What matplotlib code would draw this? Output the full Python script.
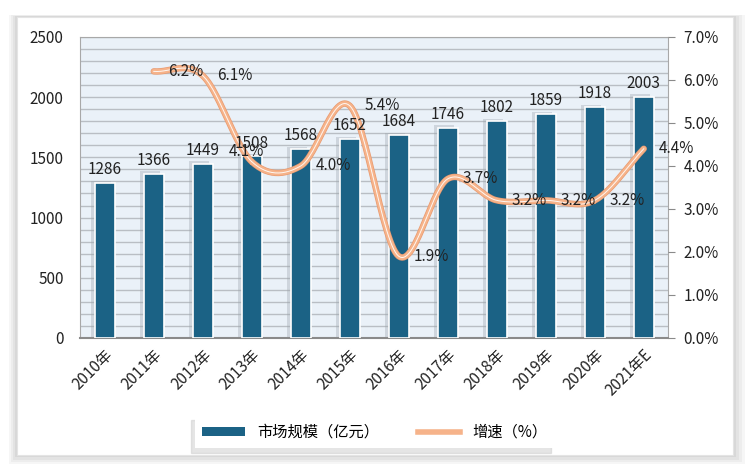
import numpy as np
import matplotlib
matplotlib.use("Agg")
import matplotlib.pyplot as plt
from matplotlib.patches import FancyBboxPatch, Patch
from matplotlib.lines import Line2D

plt.rcParams['font.family'] = ['Noto Sans CJK SC', 'DejaVu Sans']

#%% data
years = ['2010年', '2011年', '2012年', '2013年', '2014年', '2015年',
         '2016年', '2017年', '2018年', '2019年', '2020年', '2021年E']
market = [1286, 1366, 1449, 1508, 1568, 1652, 1684, 1746, 1802, 1859, 1918, 2003]
growth_years = years[1:]
growth = [6.2, 6.1, 4.1, 4.0, 5.4, 1.9, 3.7, 3.2, 3.2, 3.2, 4.4]

bar_color = '#1b6285'
line_color = '#f6b38a'


#%% smoothing like excel's smoothed line
def catmull_rom(x, y, n=30):
    x = np.asarray(x, float)
    y = np.asarray(y, float)
    px = np.concatenate([[2 * x[0] - x[1]], x, [2 * x[-1] - x[-2]]])
    py = np.concatenate([[2 * y[0] - y[1]], y, [2 * y[-1] - y[-2]]])
    xs, ys = [], []
    t = np.linspace(0, 1, n)
    for i in range(1, len(px) - 2):
        for p, out in ((px, xs), (py, ys)):
            p0, p1, p2, p3 = p[i - 1], p[i], p[i + 1], p[i + 2]
            out.extend(0.5 * (2 * p1 + (-p0 + p2) * t
                              + (2 * p0 - 5 * p1 + 4 * p2 - p3) * t ** 2
                              + (-p0 + 3 * p1 - 3 * p2 + p3) * t ** 3))
    return np.array(xs), np.array(ys)


#%% figure
fig = plt.figure(figsize=(7.5, 4.74), dpi=100)
fig.patch.set_facecolor('white')

# outer panel with soft shadow
for k, a in enumerate([0.10, 0.12, 0.15, 0.2]):
    d = 0.004 * (4 - k)
    fig.patches.append(FancyBboxPatch((0.022 - d * 0.6, 0.04 - d * 1.2),
                                      0.955 + d * 1.6, 0.925 + d * 1.4,
                                      boxstyle='square,pad=0',
                                      transform=fig.transFigure,
                                      facecolor='#b0b0b0', edgecolor='none',
                                      alpha=a, zorder=0))
panel = FancyBboxPatch((0.022, 0.04), 0.955, 0.925, boxstyle='square,pad=0',
                       transform=fig.transFigure, facecolor='white',
                       edgecolor='#e4e4e4', lw=0.8, zorder=0.5)
fig.patches.append(panel)

ax = fig.add_axes([0.107, 0.287, 0.784, 0.635])
ax.set_zorder(2)
ax.set_facecolor('#eaf1f8')

x = np.arange(len(years))
# bar shadows
ax.bar(x - 0.08, np.array(market) + 20, width=0.42, color='#9aa3ab', alpha=0.35,
       zorder=2, linewidth=0)
ax.bar(x, market, width=0.4, color=bar_color, edgecolor='white', linewidth=1.2,
       zorder=3)

ax.set_ylim(0, 2500)
ax.set_xlim(-0.5, len(years) - 0.5)
ax.set_yticks(np.arange(0, 2501, 500))
ax.set_yticks(np.arange(0, 2501, 100), minor=True)
ax.grid(axis='y', which='both', color='#b9bec4', lw=1.0, zorder=1)
ax.set_axisbelow(True)
ax.tick_params(axis='y', which='both', length=0, labelsize=11, pad=12,
               labelcolor='#222222')
ax.set_xticks(x)
ax.set_xticklabels(years, rotation=45, ha='right', rotation_mode='anchor',
                   fontsize=11, color='#222222')
ax.tick_params(axis='x', length=0, pad=6)
for side in ['left', 'top', 'right']:
    ax.spines[side].set_color('#a8a8a8')
ax.spines['bottom'].set_color('#8a8a8a')
ax.spines['bottom'].set_linewidth(1.5)

# growth line on right axis
ax2 = ax.twinx()
gx = np.arange(1, len(years))
sx, sy = catmull_rom(gx, growth)
ax2.plot(sx, sy, color='#e89a70', lw=4.6, solid_capstyle='round', zorder=4)
ax2.plot(sx, sy, color=line_color, lw=3.6, solid_capstyle='round', zorder=4)
ax2.plot(sx, sy, color='white', lw=0.7, alpha=0.9, zorder=5)
for xi, v in zip(gx, growth):
    if xi == 3:
        ax2.text(xi - 0.1, v + 0.05, f'{v:.1f}%', ha='center', va='bottom',
                 fontsize=11, color='#222222', zorder=6)
    else:
        ax2.text(xi + 0.3, v, f'{v:.1f}%', ha='left', va='center',
                 fontsize=11, color='#222222', zorder=6)

# bar value labels drawn on top of the line
for xi, v in zip(x, market):
    ax2.text(xi, v + 40, str(v), ha='center', va='bottom', fontsize=11,
             color='#222222', zorder=6, transform=ax.transData)

ax2.set_ylim(0, 7)
ax2.set_yticks(np.arange(0, 7.01, 1))
ax2.set_yticklabels([f'{t:.1f}%' for t in np.arange(0, 7.01, 1)])
ax2.tick_params(axis='y', length=5, color='#8a8a8a', labelsize=11, pad=6,
                labelcolor='#222222')
for side in ['left', 'top', 'right', 'bottom']:
    ax2.spines[side].set_visible(False)

# legend
handles = [Patch(facecolor=bar_color, edgecolor='none'),
           Line2D([0], [0], color=line_color, lw=4)]
leg = fig.legend(handles, ['市场规模（亿元）', '增速（%）'], loc='center',
                 bbox_to_anchor=(0.5, 0.088), ncol=2, fontsize=11,
                 frameon=True, fancybox=False,
                 shadow={'color': '#cccccc', 'alpha': 0.5, 'ox': -3, 'oy': -3},
                 handlelength=2.8, handleheight=0.6, columnspacing=2.5,
                 borderpad=0.5)
leg.get_frame().set_edgecolor('none')
leg.get_frame().set_facecolor('white')

fig.savefig('out.png', dpi=100)
